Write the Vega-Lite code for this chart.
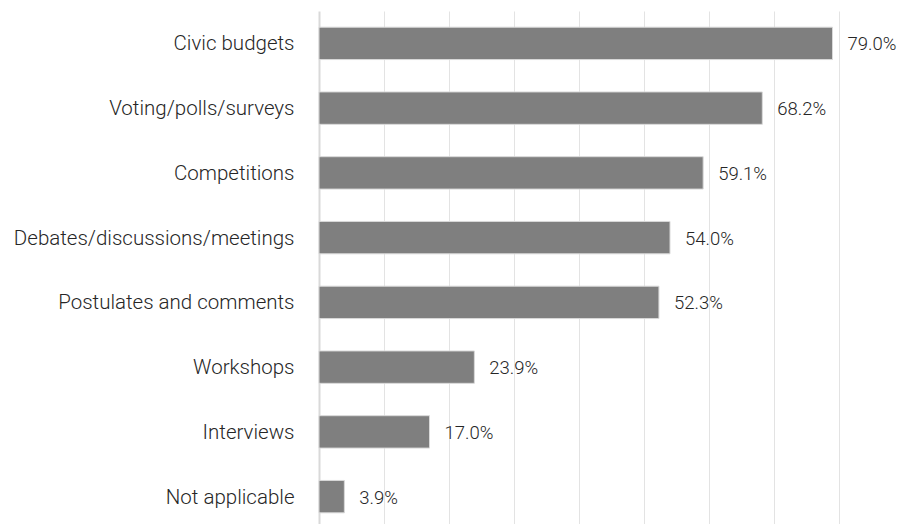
{
  "$schema": "https://vega.github.io/schema/vega-lite/v6.json",
  "autosize": {"type": "none"},
  "width": 520,
  "height": 518,
  "padding": {"left": 319, "top": 11, "right": 61, "bottom": 0},
  "background": "white",
  "config": {"view": {"stroke": null}, "font": "Roboto"},
  "data": {"values": [
    {"category": "Civic budgets", "value": 0.790},
    {"category": "Voting/polls/surveys ", "value": 0.682},
    {"category": "Competitions", "value": 0.591},
    {"category": "Debates/discussions/meetings", "value": 0.540},
    {"category": "Postulates and comments ", "value": 0.523},
    {"category": "Workshops", "value": 0.239},
    {"category": "Interviews", "value": 0.170},
    {"category": "Not applicable", "value": 0.039}
  ]},
  "encoding": {
    "y": {"field": "category", "type": "nominal", "sort": null,
      "scale": {"paddingInner": 0.5, "paddingOuter": 0.25},
      "axis": {"title": null, "ticks": false, "domain": true, "domainColor": "#d9d9d9", "domainWidth": 2,
        "labelFont": "Roboto", "labelFontWeight": 300, "labelFontSize": 20.5, "labelColor": "#262626",
        "labelPadding": 25, "labelLimit": 400, "labelOffset": 1, "grid": false}},
    "x": {"field": "value", "type": "quantitative",
      "scale": {"domain": [0, 0.8], "nice": false},
      "axis": {"title": null, "labels": false, "ticks": false, "domain": false,
        "grid": true, "gridColor": "#e3e3e3", "gridWidth": 1, "values": [0.1, 0.2, 0.3, 0.4, 0.5, 0.6, 0.7, 0.8]}}
  },
  "layer": [
    {"mark": {"type": "bar", "color": "#7f7f7f", "stroke": "#d9d9d9", "strokeWidth": 1}},
    {"mark": {"type": "text", "align": "left", "baseline": "middle", "dx": 15, "dy": 1, "font": "Roboto", "fontWeight": 300, "fontSize": 18.5, "color": "#262626"},
      "encoding": {"text": {"field": "value", "type": "quantitative", "format": ".1%"}}}
  ]
}
